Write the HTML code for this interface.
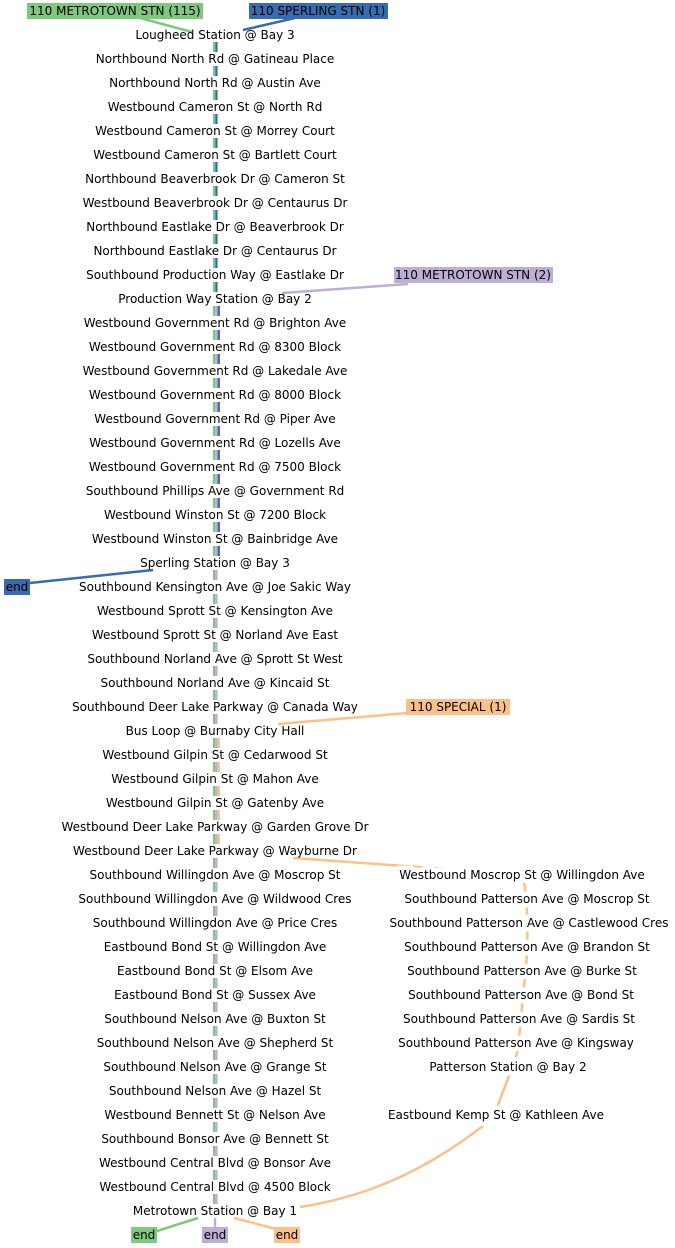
<!DOCTYPE html>
<html><head><meta charset="utf-8"><style>
html,body{margin:0;padding:0;background:#fff}
svg{display:block}
text{font-family:"DejaVu Sans","Liberation Sans",sans-serif;font-size:12px;fill:#000}
.m text{text-anchor:middle}
.bg{stroke:#fff;stroke-width:9px;paint-order:stroke;stroke-linejoin:round}
</style></head><body>
<svg width="675" height="1248" viewBox="0 0 675 1248" xmlns="http://www.w3.org/2000/svg">
<g fill="none" stroke-width="2.5">
<path d="M140,18 L192,32" stroke="#7fc97f"/>
<path d="M295,18 L243,30" stroke="#386cb0"/>
<path d="M408,284 L282,293" stroke="#beaed4"/>
<path d="M30,583 L153,570" stroke="#386cb0"/>
<path d="M420,712 L278,724" stroke="#fdc086"/>
<path d="M293,858 L446,869" stroke="#fdc086"/>
<path d="M524,883 C528,900 529,950 524,985 L518,1050 C512,1070 505,1085 497,1108" stroke="#fdc086"/>
<path d="M488,1122 C440,1160 380,1195 300,1207" stroke="#fdc086"/>
<path d="M198,1218 L157,1231" stroke="#7fc97f"/>
<path d="M215,1218 L215,1228" stroke="#beaed4"/>
<path d="M234,1218 L276,1229" stroke="#fdc086"/>
</g>
<g id="strands"></g>
<rect x="27" y="3" width="176" height="16" fill="#7fc97f"/>
<rect x="249" y="3" width="139" height="16" fill="#386cb0"/>
<rect x="394" y="267" width="159" height="16" fill="#beaed4"/>
<rect x="406" y="699" width="104" height="16" fill="#fdc086"/>
<rect x="4" y="579" width="26" height="16" fill="#386cb0"/>
<rect x="131" y="1227" width="26" height="16" fill="#7fc97f"/>
<rect x="202" y="1227" width="26" height="16" fill="#beaed4"/>
<rect x="274" y="1227" width="26" height="16" fill="#fdc086"/>
<g class="m">
<text x="115" y="15">110 METROTOWN STN (115)</text>
<text x="318" y="15">110 SPERLING STN (1)</text>
<text x="473" y="279">110 METROTOWN STN (2)</text>
<text x="458" y="711">110 SPECIAL (1)</text>
<text x="17" y="591">end</text>
<text x="144" y="1239">end</text>
<text x="215" y="1239">end</text>
<text x="287" y="1239">end</text>
</g>
<g class="m" id="main"></g>
<g class="m bg">
<text x="522" y="879">Westbound Moscrop St @ Willingdon Ave</text>
<text x="527" y="903">Southbound Patterson Ave @ Moscrop St</text>
<text x="529" y="927">Southbound Patterson Ave @ Castlewood Cres</text>
<text x="527" y="951">Southbound Patterson Ave @ Brandon St</text>
<text x="522" y="975">Southbound Patterson Ave @ Burke St</text>
<text x="521" y="999">Southbound Patterson Ave @ Bond St</text>
<text x="519" y="1023">Southbound Patterson Ave @ Sardis St</text>
<text x="516" y="1047">Southbound Patterson Ave @ Kingsway</text>
<text x="508" y="1071">Patterson Station @ Bay 2</text>
<text x="496" y="1119">Eastbound Kemp St @ Kathleen Ave</text>
</g>
</svg>
<script>
var L=["Lougheed Station @ Bay 3","Northbound North Rd @ Gatineau Place","Northbound North Rd @ Austin Ave","Westbound Cameron St @ North Rd","Westbound Cameron St @ Morrey Court","Westbound Cameron St @ Bartlett Court","Northbound Beaverbrook Dr @ Cameron St","Westbound Beaverbrook Dr @ Centaurus Dr","Northbound Eastlake Dr @ Beaverbrook Dr","Northbound Eastlake Dr @ Centaurus Dr","Southbound Production Way @ Eastlake Dr","Production Way Station @ Bay 2","Westbound Government Rd @ Brighton Ave","Westbound Government Rd @ 8300 Block","Westbound Government Rd @ Lakedale Ave","Westbound Government Rd @ 8000 Block","Westbound Government Rd @ Piper Ave","Westbound Government Rd @ Lozells Ave","Westbound Government Rd @ 7500 Block","Southbound Phillips Ave @ Government Rd","Westbound Winston St @ 7200 Block","Westbound Winston St @ Bainbridge Ave","Sperling Station @ Bay 3","Southbound Kensington Ave @ Joe Sakic Way","Westbound Sprott St @ Kensington Ave","Westbound Sprott St @ Norland Ave East","Southbound Norland Ave @ Sprott St West","Southbound Norland Ave @ Kincaid St","Southbound Deer Lake Parkway @ Canada Way","Bus Loop @ Burnaby City Hall","Westbound Gilpin St @ Cedarwood St","Westbound Gilpin St @ Mahon Ave","Westbound Gilpin St @ Gatenby Ave","Westbound Deer Lake Parkway @ Garden Grove Dr","Westbound Deer Lake Parkway @ Wayburne Dr","Southbound Willingdon Ave @ Moscrop St","Southbound Willingdon Ave @ Wildwood Cres","Southbound Willingdon Ave @ Price Cres","Eastbound Bond St @ Willingdon Ave","Eastbound Bond St @ Elsom Ave","Eastbound Bond St @ Sussex Ave","Southbound Nelson Ave @ Buxton St","Southbound Nelson Ave @ Shepherd St","Southbound Nelson Ave @ Grange St","Southbound Nelson Ave @ Hazel St","Westbound Bennett St @ Nelson Ave","Southbound Bonsor Ave @ Bennett St","Westbound Central Blvd @ Bonsor Ave","Westbound Central Blvd @ 4500 Block","Metrotown Station @ Bay 1"];
var NS="http://www.w3.org/2000/svg",m=document.getElementById("main"),s=document.getElementById("strands");
var G="#7fc97f",P="#beaed4",B="#386cb0",O="#fdc086";
for(var i=1;i<=50;i++){var y=11+24*i;var t=document.createElementNS(NS,"text");t.setAttribute("x",215);t.setAttribute("y",y+4);t.textContent=L[i-1];m.appendChild(t);
if(i<50){var c;if(i<=11)c=[G,B];else if(i<=22)c=[G,P,B];else if(i<=29)c=[G,P];else if(i<=34)c=[G,P,O];else c=[G,P];
var x0=213;for(var k=0;k<c.length;k++){var r=document.createElementNS(NS,"rect");r.setAttribute("x",x0+k*2.3);r.setAttribute("y",y+7);r.setAttribute("width",2.3);r.setAttribute("height",10);r.setAttribute("fill",c[k]);s.appendChild(r);}}}
</script>
</body></html>
